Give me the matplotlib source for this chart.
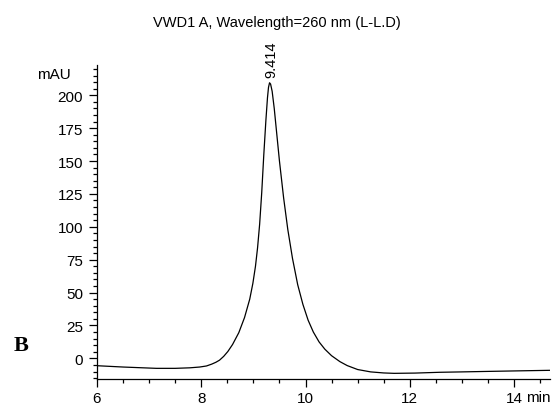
import matplotlib
matplotlib.use("Agg")
import matplotlib.pyplot as plt
from matplotlib.ticker import MultipleLocator

plt.rcParams["font.family"] = ["Liberation Sans", "DejaVu Sans"]

# retention time (min) and absorbance (mAU)
times = [6.0, 6.5, 7.14, 7.5, 7.78, 7.97, 8.1, 8.2, 8.28, 8.35, 8.43, 8.51,
         8.6, 8.72, 8.83, 8.93, 8.99, 9.04, 9.08, 9.12, 9.16, 9.2, 9.24,
         9.27, 9.29, 9.31, 9.33, 9.36, 9.4, 9.45, 9.5, 9.58, 9.66, 9.75,
         9.85, 9.95, 10.05, 10.15, 10.26, 10.37, 10.5, 10.66, 10.8, 11.0,
         11.25, 11.5, 11.7, 12.1, 12.57, 13.0, 13.53, 14.1, 14.69]
mau = [-5.6, -6.6, -7.6, -7.6, -7.2, -6.6, -5.8, -4.4, -3.0, -1.4, 1.5, 5.2,
       10.5, 19.5, 31.0, 45.0, 57.0, 70.0, 84.0, 102.0, 126.0, 155.0, 181.0,
       198.0, 206.0, 209.5, 208.5, 203.0, 190.0, 170.0, 150.0, 122.0, 98.0, 76.0,
       56.0, 41.0, 29.0, 20.0, 12.5, 7.0, 2.0, -2.5, -5.5, -8.5,
       -10.3, -11.1, -11.4, -11.2, -10.6, -10.3, -9.9, -9.5, -9.1]

peak_time = 9.34
peak_label = "9.414"

fig = plt.figure(figsize=(5.55, 4.06), dpi=100)
ax = fig.add_axes([97 / 555, 1 - 380 / 406, (550 - 97) / 555, (380 - 66) / 406])

ax.plot(times, mau, color="black", lw=0.9)

ax.set_xlim(6, 14.69)
ax.set_ylim(-15.7, 223)
for s in ["top", "right"]:
    ax.spines[s].set_visible(False)
for s in ["left", "bottom"]:
    ax.spines[s].set_linewidth(0.9)

ax.set_xticks([6, 8, 10, 12, 14])
ax.xaxis.set_minor_locator(MultipleLocator(0.5))
ax.set_yticks(range(0, 201, 25))
ax.yaxis.set_minor_locator(MultipleLocator(5))
ax.tick_params(which="major", direction="out", length=6, width=0.9, labelsize=11)
ax.tick_params(which="minor", direction="out", length=3.2, width=0.9)
ax.tick_params(axis="y", pad=4.0)
ax.tick_params(axis="x", pad=3.0)

ax.text(peak_time, 214, peak_label, rotation=90, ha="center", va="bottom", fontsize=10.5)

fig.text(277 / 555, 1 - 23 / 406, "VWD1 A, Wavelength=260 nm (L-L.D)", ha="center", va="center", fontsize=10.5)
fig.text(71 / 555, 1 - 75 / 406, "mAU", ha="right", va="center", fontsize=11)
fig.text(551 / 555, 1 - 398 / 406, "min", ha="right", va="center", fontsize=11)
fig.text(21 / 555, 1 - 346 / 406, "B", ha="center", va="center", fontsize=16,
         fontweight="bold", family="Liberation Serif")

fig.savefig("out.png", dpi=100)
